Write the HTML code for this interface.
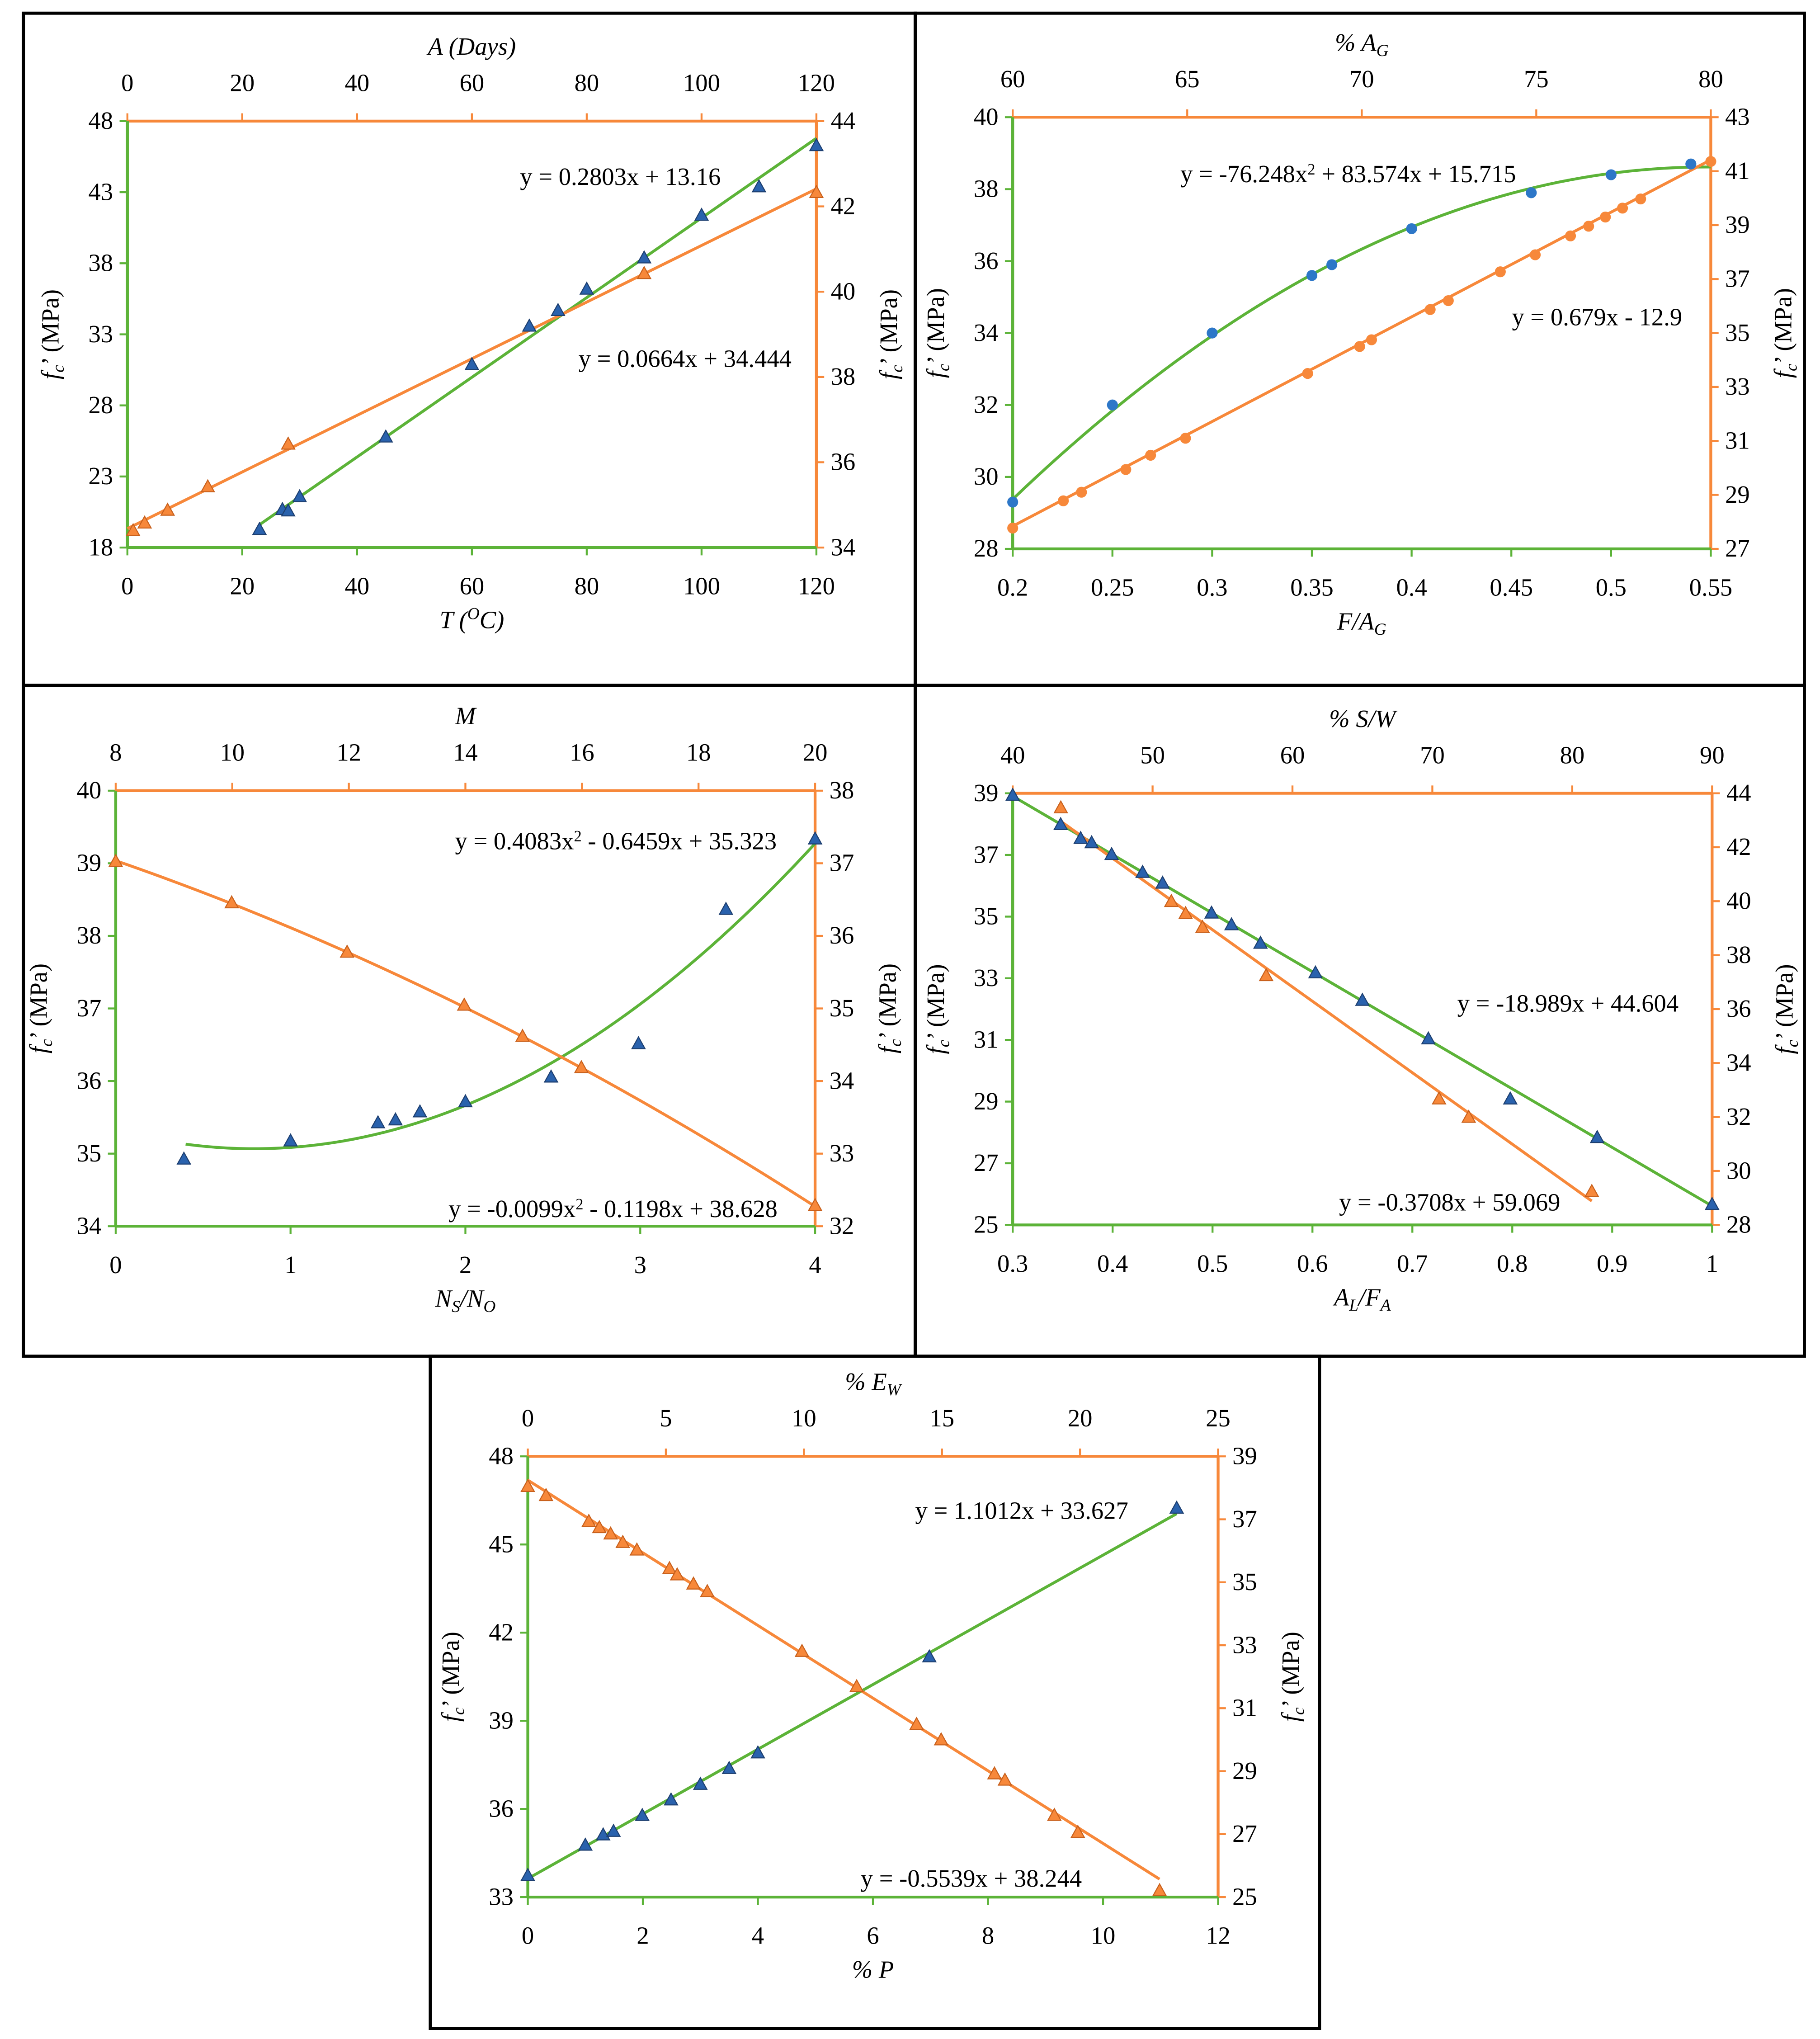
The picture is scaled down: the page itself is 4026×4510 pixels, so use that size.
<!DOCTYPE html>
<html><head><meta charset="utf-8">
<style>
html,body{margin:0;padding:0;background:#fff;}
svg{display:block;}
text{font-family:"Liberation Serif",serif;fill:#000;}
</style></head>
<body>
<svg id="fig" width="4026" height="4510" viewBox="0 0 1400 1568" xmlns="http://www.w3.org/2000/svg"></svg>
<script>
// ---- Panel 1 data ----
const p1BlueX = [23,27,28,30,45,60,70,75,80,90,100,110,120];
const p1BlueY = [19.2,20.6,20.5,21.5,25.7,30.8,33.5,34.6,36.1,38.3,41.3,43.3,46.2];
const p1OrX = [1,3,7,14,28,90,120];
const p1OrY = [34.37,34.55,34.85,35.4,36.4,40.4,42.3];
const p1LeftTicks = [18,23,28,33,38,43,48];
const p1RightTicks = [34,36,38,40,42,44];
const p1BottomTicks = [0,20,40,60,80,100,120];
const p1TopTicks = [0,20,40,60,80,100,120];
// ---- Panel 2 data ----
const p2BlueX = [0.2,0.25,0.3,0.35,0.36,0.4,0.46,0.5,0.54];
const p2BlueY = [29.3,32.0,34.0,35.6,35.9,36.9,37.9,38.4,38.7];
const p2OrX = [60,61.45,61.97,63.24,63.95,64.95,68.45,69.94,70.28,71.96,72.48,73.97,74.97,75.98,76.5,76.98,77.47,77.99,80];
const p2OrY = [27.77,28.78,29.1,29.94,30.47,31.1,33.5,34.5,34.75,35.87,36.2,37.27,37.9,38.6,38.96,39.3,39.63,39.97,41.36];
const p2LeftTicks = [28,30,32,34,36,38,40];
const p2RightTicks = [27,29,31,33,35,37,39,41,43];
const p2BottomTicks = [0.2,0.25,0.3,0.35,0.4,0.45,0.5,0.55];
const p2TopTicks = [60,65,70,75,80];
// ---- Panel 3 data ----
const p3BlueX = [0.39,1,1.5,1.6,1.74,2,2.49,2.99,3.49,4];
const p3BlueY = [34.91,35.16,35.41,35.45,35.56,35.7,36.04,36.5,38.35,39.32];
const p3OrX = [8,9.99,11.97,13.98,14.98,15.99,20];
const p3OrY = [37.01,36.44,35.76,35.03,34.6,34.17,32.27];
const p3LeftTicks = [34,35,36,37,38,39,40];
const p3RightTicks = [32,33,34,35,36,37,38];
const p3BottomTicks = [0,1,2,3,4];
const p3TopTicks = [8,10,12,14,16,18,20];
// ---- Panel 4 data ----
const p4BlueX = [0.3,0.348,0.368,0.379,0.399,0.43,0.45,0.499,0.519,0.548,0.603,0.65,0.716,0.798,0.885,1];
const p4BlueY = [38.9,37.95,37.5,37.36,36.98,36.4,36.05,35.08,34.7,34.1,33.14,32.25,31.0,29.05,27.8,25.63];
const p4OrX = [43.44,51.34,52.36,53.57,58.12,70.48,72.6,81.4];
const p4OrY = [43.42,39.95,39.5,38.99,37.2,32.63,31.95,29.2];
const p4LeftTicks = [25,27,29,31,33,35,37,39];
const p4RightTicks = [28,30,32,34,36,38,40,42,44];
const p4BottomTicks = [0.3,0.4,0.5,0.6,0.7,0.8,0.9,1];
const p4TopTicks = [40,50,60,70,80,90];
// ---- Panel 5 data ----
const p5BlueX = [0,1,1.31,1.49,1.99,2.49,3.0,3.5,4.0,6.98,11.28];
const p5BlueY = [33.7,34.73,35.08,35.2,35.74,36.27,36.8,37.34,37.87,41.14,46.2];
const p5OrX = [0,0.66,2.21,2.59,3.0,3.44,3.95,5.13,5.41,6.0,6.5,9.93,11.91,14.08,14.97,16.9,17.28,19.07,19.92,22.88];
const p5OrY = [38.01,37.72,36.9,36.7,36.5,36.23,35.99,35.4,35.2,34.91,34.67,32.77,31.65,30.45,29.96,28.88,28.68,27.56,27.02,25.17];
const p5LeftTicks = [33,36,39,42,45,48];
const p5RightTicks = [25,27,29,31,33,35,37,39];
const p5BottomTicks = [0,2,4,6,8,10,12];
const p5TopTicks = [0,5,10,15,20,25];

const NS = "http://www.w3.org/2000/svg";
const svg = document.getElementById('fig');
const GREEN = "#5cb338", ORANGE = "#f7883a", BLUE_T = "#2a62ad", BLUE_C = "#2d77c8";
const FS = 19;

function mk(tag, attrs, parent){
  const e = document.createElementNS(NS, tag);
  for (const k in attrs) e.setAttribute(k, attrs[k]);
  (parent||svg).appendChild(e);
  return e;
}
function txt(x,y,s,anchor,size,parent,italic){
  const t = mk('text',{x:x,y:y,'text-anchor':anchor,'font-size':size},parent);
  if (italic) t.setAttribute('font-style','italic');
  t.textContent = s;
  return t;
}
function tri(x,y,fill,g){
  const p = mk('polygon',{points:`${x},${y-6} ${x-5},${y+3} ${x+5},${y+3}`,fill:fill,stroke:fill==BLUE_T?'#1d3f70':'#c8601c','stroke-width':0.8},g);
  return p;
}
function ylab(x,y,g){
  const t = mk('text',{x:0,y:0,'text-anchor':'middle','font-size':FS,transform:`translate(${x},${y}) rotate(-90)`},g);
  
  
  const a = mk('tspan',{'font-style':'italic'},t); a.textContent="f";
  const b = mk('tspan',{'font-style':'italic','font-size':13,dy:4}); t.appendChild(b); b.textContent="c";
  const c = mk('tspan',{dy:-4}); t.appendChild(c); c.textContent="\u2019 (MPa)";
  return t;
}

function panel(cfg){
  const g = mk('g',{});
  
  
  const fr = mk('rect',{x:cfg.frame[0],y:cfg.frame[1],width:cfg.frame[2]-cfg.frame[0],height:cfg.frame[3]-cfg.frame[1],fill:'none',stroke:'#000','stroke-width':2.4},g);
  
  
  const [L,T,R,B] = cfg.plot;
  const xB = v => L + (v-cfg.bx[0])/(cfg.bx[1]-cfg.bx[0])*(R-L);
  const xT = v => L + (v-cfg.tx[0])/(cfg.tx[1]-cfg.tx[0])*(R-L);
  const yL = v => B - (v-cfg.ly[0])/(cfg.ly[1]-cfg.ly[0])*(B-T);
  const yR = v => B - (v-cfg.ry[0])/(cfg.ry[1]-cfg.ry[0])*(B-T);
  let a;
  a = mk('line',{x1:L,y1:T,x2:R,y2:T,stroke:ORANGE,'stroke-width':2.2},g);
   
  a = mk('line',{x1:R,y1:T,x2:R,y2:B,stroke:ORANGE,'stroke-width':2.2},g);
   
  a = mk('line',{x1:L,y1:T,x2:L,y2:B,stroke:GREEN,'stroke-width':2.2},g);
   
  a = mk('line',{x1:L,y1:B,x2:R,y2:B,stroke:GREEN,'stroke-width':2.2},g);
   
  const fmt = v => String(v);
  cfg.lt.forEach(v=>{ const y=yL(v);
    mk('line',{x1:L-6,y1:y,x2:L,y2:y,stroke:GREEN,'stroke-width':1.5},g);
    const t=txt(L-11,y+6,fmt(v),'end',FS,g);
     });
  cfg.rt.forEach(v=>{ const y=yR(v);
    mk('line',{x1:R,y1:y,x2:R+6,y2:y,stroke:ORANGE,'stroke-width':1.5},g);
    const t=txt(R+11,y+6,fmt(v),'start',FS,g);
     });
  cfg.btk.forEach(v=>{ const x=xB(v);
    mk('line',{x1:x,y1:B,x2:x,y2:B+6,stroke:GREEN,'stroke-width':1.5},g);
    const t=txt(x,B+36,fmt(v),'middle',FS,g);
     });
  cfg.ttk.forEach(v=>{ const x=xT(v);
    mk('line',{x1:x,y1:T-6,x2:x,y2:T,stroke:ORANGE,'stroke-width':1.5},g);
    const t=txt(x,T-23,fmt(v),'middle',FS,g);
     });
  const tt = mk('text',{x:(L+R)/2,y:T-51,'text-anchor':'middle','font-size':FS,'font-style':'italic'},g);
   
  cfg.topTitle(tt);
  const bt = mk('text',{x:(L+R)/2,y:B+62,'text-anchor':'middle','font-size':FS,'font-style':'italic'},g);
   
  cfg.botTitle(bt);
  ylab(L-53,(T+B)/2,g);
  ylab(R+62,(T+B)/2,g);
  const gf = (f, x0, x1, sx, sy, col) => {
    let d=''; const n=60;
    for(let i=0;i<=n;i++){const x=x0+(x1-x0)*i/n; d+=(i?'L':'M')+sx(x).toFixed(2)+','+sy(f(x)).toFixed(2);}
    return mk('path',{d:d,fill:'none',stroke:col,'stroke-width':2.2},g);
  };
  const l1 = gf(cfg.fitB, cfg.fitBr[0], cfg.fitBr[1], xB, yL, GREEN);
   
  const l2 = gf(cfg.fitT, cfg.fitTr[0], cfg.fitTr[1], xT, yR, ORANGE);
   
  cfg.bX.forEach((v,i)=>{
    let m;
    if (cfg.circles) m = mk('circle',{cx:xB(v),cy:yL(cfg.bY[i]),r:4.2,fill:BLUE_C},g);
    else m = tri(xB(v),yL(cfg.bY[i]),BLUE_T,g);
     
  });
  cfg.oX.forEach((v,i)=>{
    let m;
    if (cfg.circles) m = mk('circle',{cx:xT(v),cy:yR(cfg.oY[i]),r:4.2,fill:ORANGE},g);
    else m = tri(xT(v),yR(cfg.oY[i]),ORANGE,g);
     
  });
  cfg.eqs.forEach(e=>{
    const t = mk('text',{x:e[0],y:e[1],'text-anchor':'start','font-size':FS},g);
     
    t.innerHTML = e[2];
  });
}

panel({name:'panel-temperature-age',frame:[18,10,704,527],plot:[98,93,628,421],
  bx:[0,120],tx:[0,120],ly:[18,48],ry:[34,44],lt:p1LeftTicks,rt:p1RightTicks,btk:p1BottomTicks,ttk:p1TopTicks,
  topTitle:t=>{t.textContent='A (Days)';},
  botTitle:t=>{t.innerHTML='T (<tspan font-size="13" dy="-7">O</tspan><tspan dy="7">C)</tspan>';},
  fitB:x=>0.2803*x+13.16,fitBr:[23,120],fitT:x=>0.0664*x+34.444,fitTr:[0,120],
  bX:p1BlueX,bY:p1BlueY,oX:p1OrX,oY:p1OrY,
  eqs:[[400,142,'y = 0.2803x + 13.16'],[445,282,'y = 0.0664x + 34.444']]});

panel({name:'panel-fiber-aggregate',frame:[704,10,1388,527],plot:[779,90,1316,422],
  bx:[0.2,0.55],tx:[60,80],ly:[28,40],ry:[27,43],lt:p2LeftTicks,rt:p2RightTicks,btk:p2BottomTicks,ttk:p2TopTicks,circles:true,
  topTitle:t=>{t.innerHTML='% A<tspan font-size="13" dy="4">G</tspan>';},
  botTitle:t=>{t.innerHTML='F/A<tspan font-size="13" dy="4">G</tspan>';},
  fitB:x=>-76.248*x*x+83.574*x+15.715,fitBr:[0.2,0.55],fitT:x=>0.679*x-12.9,fitTr:[60,80],
  bX:p2BlueX,bY:p2BlueY,oX:p2OrX,oY:p2OrY,
  eqs:[[908,140,'y = -76.248x<tspan font-size="12" dy="-6">2</tspan><tspan dy="6"> + 83.574x + 15.715</tspan>'],[1163,250,'y = 0.679x - 12.9']]});

panel({name:'panel-molarity-ratio',frame:[18,527,704,1043],plot:[89,608,627,943],
  bx:[0,4],tx:[8,20],ly:[34,40],ry:[32,38],lt:p3LeftTicks,rt:p3RightTicks,btk:p3BottomTicks,ttk:p3TopTicks,
  topTitle:t=>{t.textContent='M';},
  botTitle:t=>{t.innerHTML='N<tspan font-size="13" dy="4">S</tspan><tspan dy="-4">/N</tspan><tspan font-size="13" dy="4">O</tspan>';},
  fitB:x=>0.4083*x*x-0.6459*x+35.323,fitBr:[0.4,4],fitT:x=>-0.0099*x*x-0.1198*x+38.628,fitTr:[8,20],
  bX:p3BlueX,bY:p3BlueY,oX:p3OrX,oY:p3OrY,
  eqs:[[350,653,'y = 0.4083x<tspan font-size="12" dy="-6">2</tspan><tspan dy="6"> - 0.6459x + 35.323</tspan>'],[345,936,'y = -0.0099x<tspan font-size="12" dy="-6">2</tspan><tspan dy="6"> - 0.1198x + 38.628</tspan>']]});

panel({name:'panel-alkaline-ratio',frame:[704,527,1388,1043],plot:[779,610,1317,942],
  bx:[0.3,1],tx:[40,90],ly:[25,39],ry:[28,44],lt:p4LeftTicks,rt:p4RightTicks,btk:p4BottomTicks,ttk:p4TopTicks,
  topTitle:t=>{t.textContent='% S/W';},
  botTitle:t=>{t.innerHTML='A<tspan font-size="13" dy="4">L</tspan><tspan dy="-4">/F</tspan><tspan font-size="13" dy="4">A</tspan>';},
  fitB:x=>-18.989*x+44.604,fitBr:[0.3,1],fitT:x=>-0.3708*x+59.069,fitTr:[43.4,81.4],
  bX:p4BlueX,bY:p4BlueY,oX:p4OrX,oY:p4OrY,
  eqs:[[1121,778,'y = -18.989x + 44.604'],[1030,931,'y = -0.3708x + 59.069']]});

panel({name:'panel-plastic-water',frame:[331,1043,1015,1560],plot:[406,1120,937,1459],
  bx:[0,12],tx:[0,25],ly:[33,48],ry:[25,39],lt:p5LeftTicks,rt:p5RightTicks,btk:p5BottomTicks,ttk:p5TopTicks,
  topTitle:t=>{t.innerHTML='% E<tspan font-size="13" dy="4">W</tspan>';},
  botTitle:t=>{t.textContent='% P';},
  fitB:x=>1.1012*x+33.627,fitBr:[0,11.28],fitT:x=>-0.5539*x+38.244,fitTr:[0,22.88],
  bX:p5BlueX,bY:p5BlueY,oX:p5OrX,oY:p5OrY,
  eqs:[[704,1168,'y = 1.1012x + 33.627'],[662,1451,'y = -0.5539x + 38.244']]});
</script>
</body></html>
